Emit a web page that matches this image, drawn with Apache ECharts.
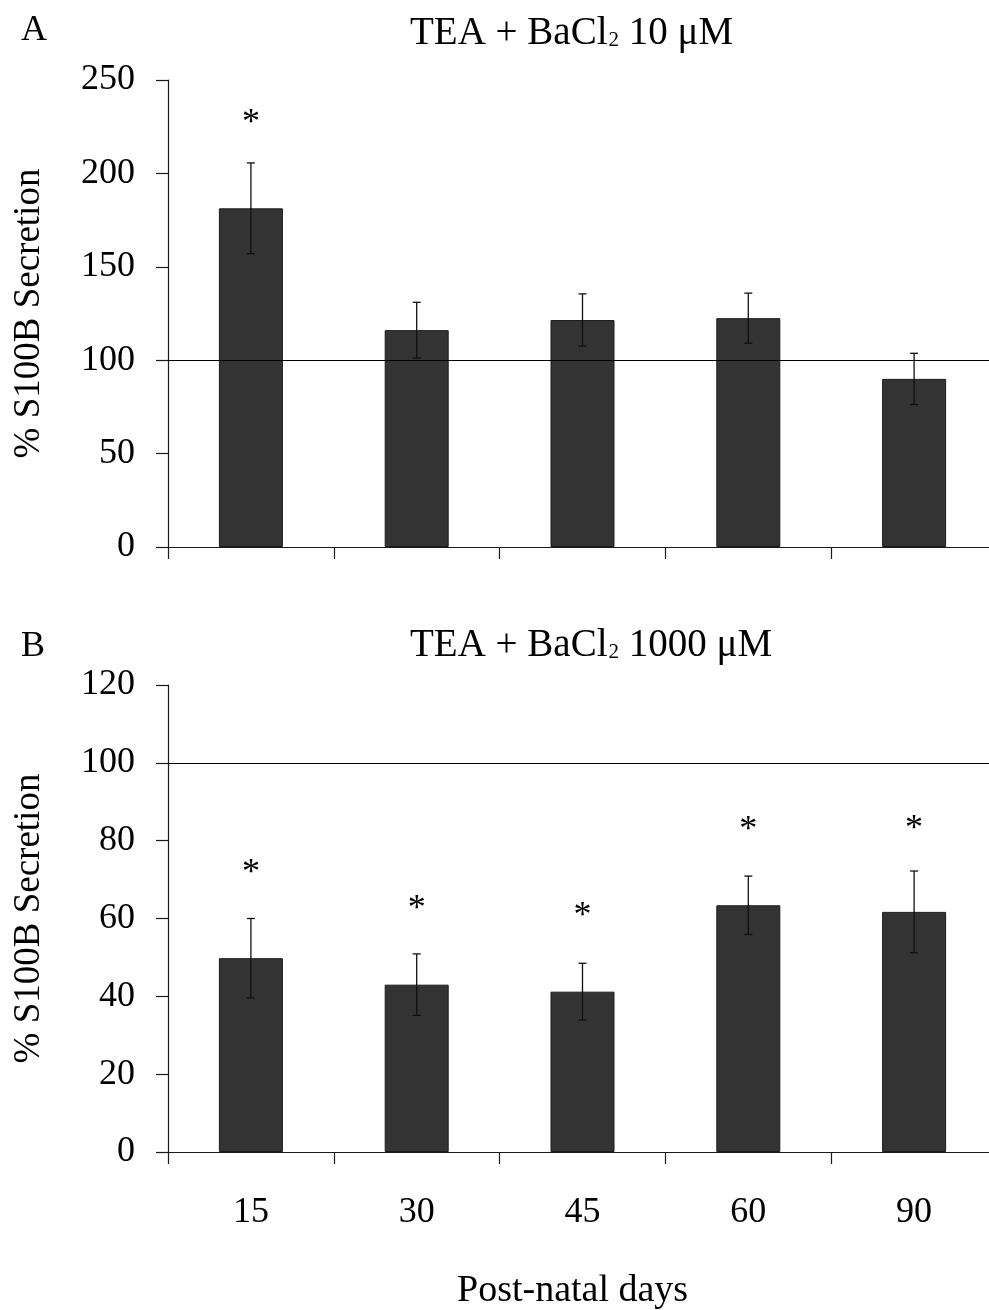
<!DOCTYPE html>
<html>
<head>
<meta charset="utf-8">
<script src="https://cdn.jsdelivr.net/npm/echarts@6/dist/echarts.min.js"></script>
<style>
html,body{margin:0;padding:0;background:#fff;overflow:hidden;}
#chart{width:997px;height:1310px;}
</style>
</head>
<body>
<div id="chart"></div>
<script>
// ---- data ----
const categories = ['15', '30', '45', '60', '90'];
const meanA = [181.3, 116.1, 121.5, 122.5, 90.0];
const errA  = [24.3, 14.9, 14.0, 13.4, 13.7];
const starA = [230.7, null, null, null, null];
const meanB = [49.8, 43.0, 41.2, 63.4, 61.7];
const errB  = [10.2, 7.9, 7.3, 7.5, 10.5];
const starB = [73.3, 64.1, 62.2, 84.5, 84.6];
const axisA = {min: 0, max: 250, interval: 50};
const axisB = {min: 0, max: 120, interval: 20};
const refLine = 100;
const titleA = 'TEA + BaCl';
const titleB = 'TEA + BaCl';
const concA = '10 μM';
const concB = '1000 μM';
const yName = '% S100B Secretion';
const xName = 'Post-natal days';

const FONT = "'Liberation Serif', 'Times New Roman', serif";
const INK = '#1a1a1a';

function errData(mean, err) {
  return mean.map((m, i) => [i, m - err[i], m + err[i]]);
}
function starData(stars) {
  return stars.map((s, i) => [i, s]).filter(d => d[1] != null);
}
function errRender(params, api) {
  const lo = api.coord([api.value(0), api.value(1)]);
  const hi = api.coord([api.value(0), api.value(2)]);
  const cap = 4;
  const style = {stroke: '#111', lineWidth: 1.3};
  return {
    type: 'group',
    children: [
      {type: 'line', shape: {x1: hi[0], y1: hi[1], x2: lo[0], y2: lo[1]}, style},
      {type: 'line', shape: {x1: hi[0] - cap, y1: hi[1], x2: hi[0] + cap, y2: hi[1]}, style},
      {type: 'line', shape: {x1: lo[0] - cap, y1: lo[1], x2: lo[0] + cap, y2: lo[1]}, style}
    ]
  };
}
function starRender(params, api) {
  const p = api.coord([api.value(0), api.value(1)]);
  return {
    type: 'text',
    x: p[0], y: p[1] + 7,
    style: {text: '*', fill: '#000', font: '36px ' + FONT, align: 'center', verticalAlign: 'middle'}
  };
}

const grids = [
  {left: 168, right: 0, top: 80, height: 467},
  {left: 168, right: 0, top: 685, height: 467}
];

function xAxisCfg(idx, showLabels) {
  return {
    type: 'category', gridIndex: idx, data: categories,
    axisLine: {lineStyle: {color: INK, width: 1.2}},
    axisTick: {show: true, length: 12, lineStyle: {color: INK, width: 1.2}},
    axisLabel: {show: showLabels, margin: 43, fontFamily: FONT, fontSize: 36, color: '#000'},
    splitLine: {show: false}
  };
}
function yAxisCfg(idx, ax) {
  return {
    type: 'value', gridIndex: idx, min: ax.min, max: ax.max, interval: ax.interval,
    name: yName, nameLocation: 'middle', nameRotate: 90, nameGap: 120,
    nameTextStyle: {fontFamily: FONT, fontSize: 37, color: '#000'},
    axisLine: {show: true, lineStyle: {color: INK, width: 1.2}},
    axisTick: {show: true, length: 12, lineStyle: {color: INK, width: 1.2}},
    axisLabel: {margin: 33, fontFamily: FONT, fontSize: 36, color: '#000'},
    splitLine: {show: false}
  };
}
function titleCfg(main, conc, left, top) {
  return {
    text: '{m|' + main + '}{s|2}{m| ' + conc + '}',
    left, top, padding: 0,
    textStyle: {
      rich: {
        m: {fontFamily: FONT, fontSize: 39, fontWeight: 'normal', color: '#000', lineHeight: 42},
        s: {fontFamily: FONT, fontSize: 21, fontWeight: 'normal', color: '#000', lineHeight: 42, padding: [12, 0, 0, 1]}
      }
    }
  };
}
function plainTitle(text, left, top, size) {
  return {text, left, top, padding: 0,
    textStyle: {fontFamily: FONT, fontSize: size, fontWeight: 'normal', color: '#000'}};
}
function barSeries(idx, mean) {
  return {
    type: 'bar', xAxisIndex: idx, yAxisIndex: idx, data: mean, barWidth: 64,
    itemStyle: {color: '#333333', borderColor: '#1c1c1c', borderWidth: 1},
    markLine: {
      silent: true, symbol: ['none', 'none'], label: {show: false},
      lineStyle: {color: '#000', width: 1.2, type: 'solid'},
      data: [{yAxis: refLine}]
    },
    z: 2
  };
}

const option = {
  animation: false,
  backgroundColor: '#fff',
  title: [
    plainTitle('A', 21, 13, 36),
    plainTitle('B', 21, 629, 36),
    titleCfg(titleA, concA, 410, 13),
    titleCfg(titleB, concB, 410, 625),
    plainTitle(xName, 457, 1272, 38)
  ],
  grid: grids,
  xAxis: [xAxisCfg(0, false), xAxisCfg(1, true)],
  yAxis: [yAxisCfg(0, axisA), yAxisCfg(1, axisB)],
  series: [
    barSeries(0, meanA),
    barSeries(1, meanB),
    {type: 'custom', xAxisIndex: 0, yAxisIndex: 0, renderItem: errRender, data: errData(meanA, errA), z: 5},
    {type: 'custom', xAxisIndex: 1, yAxisIndex: 1, renderItem: errRender, data: errData(meanB, errB), z: 5},
    {type: 'custom', xAxisIndex: 0, yAxisIndex: 0, renderItem: starRender, data: starData(starA), z: 5},
    {type: 'custom', xAxisIndex: 1, yAxisIndex: 1, renderItem: starRender, data: starData(starB), z: 5}
  ]
};

const chart = echarts.init(document.getElementById('chart'), null, {renderer: 'canvas'});
chart.setOption(option);
</script>
</body>
</html>
